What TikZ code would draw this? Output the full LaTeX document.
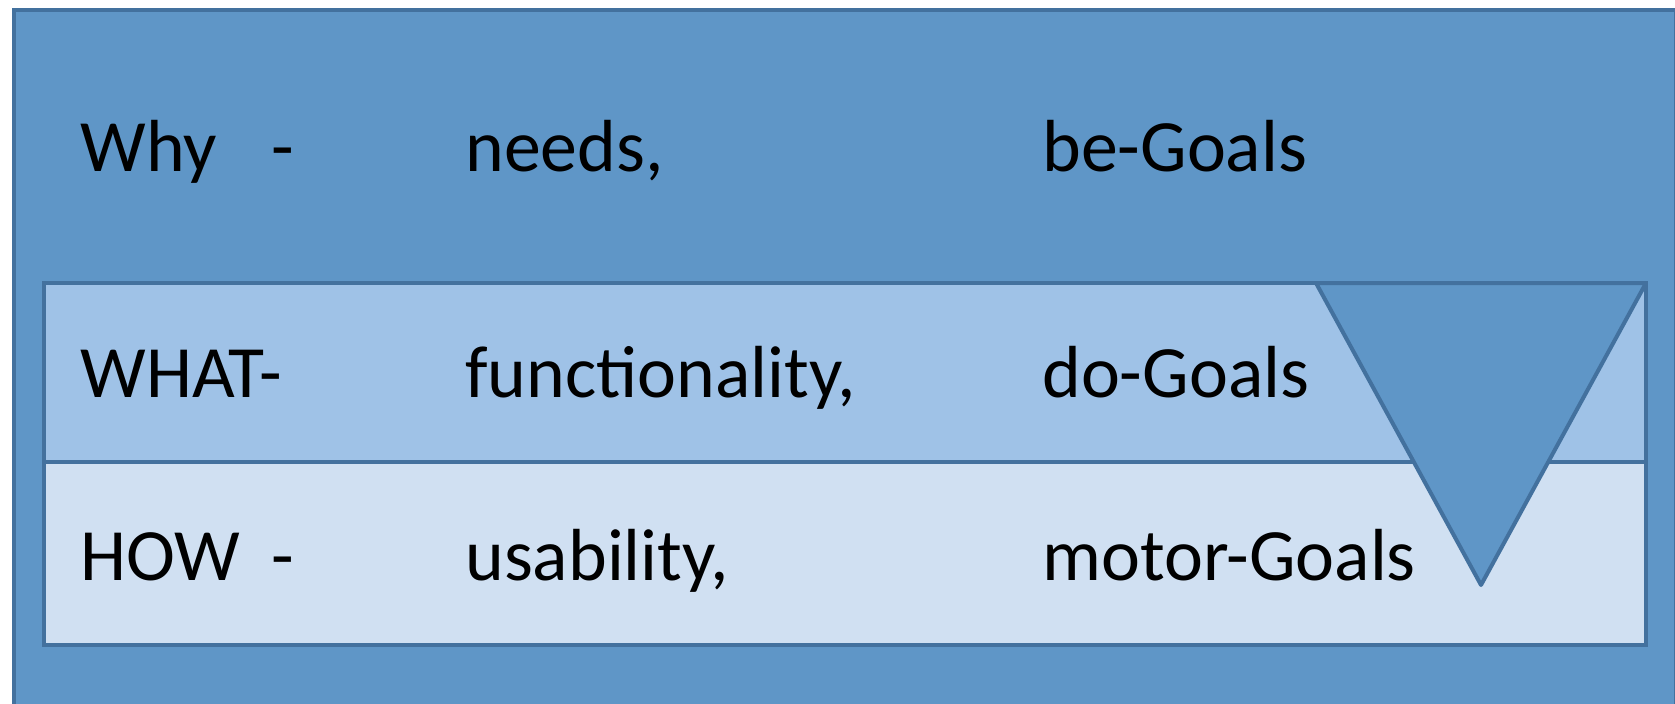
\documentclass[tikz,border=0pt]{standalone}
\usepackage{fontspec}
\setmainfont{Carlito}
\usepackage{xcolor}
\usetikzlibrary{positioning}

\definecolor{frameblue}{RGB}{95,150,199}
\definecolor{edgeblue}{RGB}{67,113,158}
\definecolor{whatblue}{RGB}{159,194,231}
\definecolor{howblue}{RGB}{208,224,242}

\begin{document}
\begin{tikzpicture}[
    x=0.02cm, y=-0.02cm,
    frame/.style={draw=edgeblue, fill=frameblue, line width=0.1cm},
    band/.style={draw=edgeblue, line width=0.08cm},
    wedge/.style={draw=edgeblue, fill=frameblue, line width=0.08cm, line join=round},
    word/.style={anchor=base west, inner sep=0pt, font=\fontsize{42}{50}\selectfont}
]
\useasboundingbox (0,0) rectangle (1675,703);
\clip (0,0) rectangle (1675,703);

% Outer frame (runs off the right and bottom)
\draw[frame] (14,10) rectangle (1676,720);

% Table rows
\draw[band, fill=whatblue] (44,283) rectangle (1646,462);
\draw[band, fill=howblue] (44,462) rectangle (1646,645);

% Downward triangle over the right end
\draw[wedge] (1316,283) -- (1646,283) -- (1481,585) -- cycle;

% Row: Why
\node[word] (why) at (80,171) {Why};
\node[word] (why-dash) at (271,171) {-};
\node[word] (needs) at (465,171) {needs,};
\node[word] (be-goals) at (1042,171) {be-Goals};

% Row: WHAT
\node[word] (what) at (80,397) {WHAT-};
\node[word] (func) at (465,397) {functionality,};
\node[word] (do-goals) at (1042,397) {do-Goals};

% Row: HOW
\node[word] (how) at (80,580) {HOW};
\node[word] (how-dash) at (271,580) {-};
\node[word] (usab) at (465,580) {usability,};
\node[word] (motor-goals) at (1042,580) {motor-Goals};

\end{tikzpicture}
\end{document}
